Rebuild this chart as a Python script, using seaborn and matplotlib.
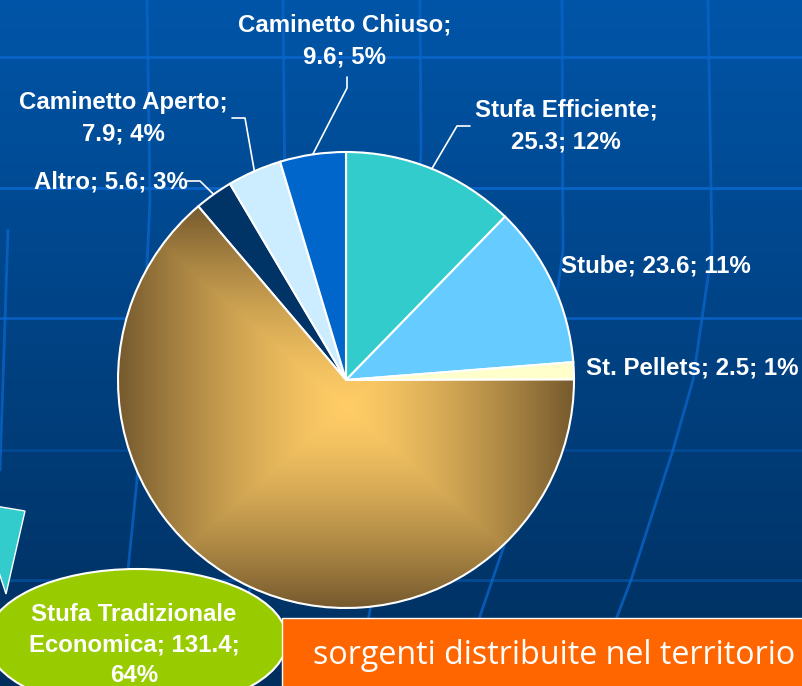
import numpy as np
import matplotlib
matplotlib.use("Agg")
import matplotlib.pyplot as plt
import seaborn as sns
from matplotlib.patches import Ellipse, Rectangle, Polygon

# data
categories = ["Stufa Efficiente", "Stube", "St. Pellets", "Stufa Tradizionale Economica",
              "Altro", "Caminetto Aperto", "Caminetto Chiuso"]
values = [25.3, 23.6, 2.5, 131.4, 5.6, 7.9, 9.6]
percents = [12, 11, 1, 64, 3, 4, 5]
label_texts = ["Stufa Efficiente;\n25.3; 12%", "Stube; 23.6; 11%", "St. Pellets; 2.5; 1%",
               "Stufa Tradizionale\nEconomica; 131.4;\n64%", "Altro; 5.6; 3%",
               "Caminetto Aperto;\n7.9; 4%", "Caminetto Chiuso;\n9.6; 5%"]
colors = ["#33CCCC", "#66CCFF", "#FFFFCC", "#FFCC66", "#003366", "#CCECFF", "#0066CC"]

sns.set_theme(style="white")
plt.rcParams['font.family'] = ['Liberation Sans', 'DejaVu Sans']

# slide is laid out in pixels; pie is drawn in radius units
W, H = 803, 686
CX, CY, R = 346, 380, 228


def P(x, y):
    return ((x - CX) / R, (CY - y) / R)


fig = plt.figure(figsize=(8.03, 6.86), dpi=100)
ax = fig.add_axes([0, 0, 1, 1])
x0, y1 = P(0, 0)
x1, y0 = P(W, H)

# background gradient
top = np.array([0, 85, 168]) / 255
bot = np.array([0, 47, 94]) / 255
g = np.linspace(0, 1, 256)[:, None, None]
bg = top * (1 - g) + bot * g
ax.imshow(bg, extent=[x0, x1, y0, y1], aspect='auto', origin='upper', zorder=-3)

# globe grid lines
for yy, a in [(57, 0.9), (188, 0.9), (318, 0.8), (450, 0.3), (580, 0.45)]:
    ax.plot([x0, x1], [P(0, yy)[1]] * 2, color='#0a66cc', lw=2, alpha=a, zorder=-2)
meridians = [
    [(8, 230), (0, 470)],
    [(147, 0), (150, 200), (137, 480), (125, 600)],
    [(283, 0), (285, 200), (270, 450), (245, 620)],
    [(420, 0), (421, 150), (410, 400), (380, 560), (355, 686)],
    [(562, 0), (563, 250), (540, 420), (505, 543), (480, 616), (470, 686)],
    [(708, 0), (712, 250), (693, 380), (673, 450), (631, 580), (612, 630)],
]
for m in meridians:
    pts = np.array([P(*p) for p in m])
    ax.plot(pts[:, 0], pts[:, 1], color='#0a66cc', lw=2, alpha=0.75, zorder=-2)

# pie
wedges, _ = ax.pie(values, colors=colors, startangle=90, counterclock=False, radius=1,
                   wedgeprops=dict(edgecolor='white', linewidth=1.5))

# path gradient on the big slice
big = wedges[3]
bb = big.get_path().get_extents()
gx = np.linspace(bb.x0, bb.x1, 300)
gy = np.linspace(bb.y0, bb.y1, 300)
XX, YY = np.meshgrid(gx, gy)
t = np.maximum(np.abs(XX - (bb.x0 + bb.x1) / 2) / (bb.width / 2),
               np.abs(YY - (bb.y0 + bb.y1) / 2) / (bb.height / 2))
t = (np.clip(t, 0, 1) ** 1.4)[..., None]
c_in = np.array([255, 204, 102]) / 255
c_out = np.array([118, 90, 46]) / 255
img = c_in * (1 - t) + c_out * t
im = ax.imshow(img, extent=[bb.x0, bb.x1, bb.y0, bb.y1], origin='lower', aspect='auto', zorder=1.5)
im.set_clip_path(big)
big.set_facecolor('none')
big.set_zorder(2)

# labels and leader lines
label_pos = {0: (566, 126), 1: (656, 266), 2: (692, 368), 4: (111, 182),
             5: (123, 118), 6: (345, 41)}
leaders = {0: [(470, 126), (457, 126)], 4: [(187, 181), (200, 181)],
           5: [(232, 118), (245, 118)], 6: [(347, 77), (347, 88)]}
for i, txt in enumerate(label_texts):
    if i == 3:
        continue
    ax.text(*P(*label_pos[i]), txt, ha='center', va='center', color='white',
            fontsize=17.3, fontweight='bold', linespacing=1.45, zorder=5)
for i, pts in leaders.items():
    w = wedges[i]
    mid = np.deg2rad((w.theta1 + w.theta2) / 2)
    line = np.array([P(*p) for p in pts] + [(np.cos(mid), np.sin(mid))])
    ax.plot(line[:, 0], line[:, 1], color='white', lw=1.2, zorder=5)

# callout shapes
tri = Polygon([P(-5, 506), P(25, 511), P(6, 594), P(-5, 560)], closed=True,
              fc='#33CCCC', ec='white', lw=1, zorder=3)
ax.add_patch(tri)
ell = Ellipse(P(137, 640), width=300 / R, height=142 / R, fc='#99CC00', ec='white', lw=1.5, zorder=3)
ax.add_patch(ell)
ax.text(*P(134, 645), label_texts[3], ha='center', va='center', color='white',
        fontsize=17.3, fontweight='bold', linespacing=1.4, zorder=5)

box = Rectangle(P(282, 720), (840 - 282) / R, (720 - 618) / R, fc='#FF6600', ec='white', lw=1, zorder=4)
ax.add_patch(box)
ax.text(*P(313, 655), "sorgenti distribuite nel territorio", ha='left', va='center',
        color='white', fontsize=23.2, family='Open Sans', zorder=5)

ax.set_xlim(x0, x1)
ax.set_ylim(y0, y1)
ax.set_aspect('equal')
ax.axis('off')

plt.savefig('out.png', dpi=100)
